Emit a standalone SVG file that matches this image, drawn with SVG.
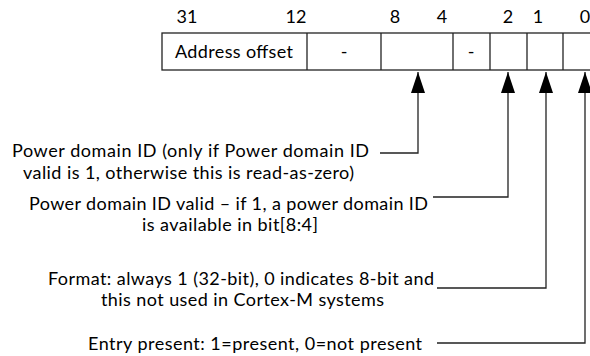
<svg xmlns="http://www.w3.org/2000/svg" width="590" height="356" viewBox="0 0 590 356">
<style>
text{font-family:Lato,"Liberation Sans",sans-serif;font-size:18px;fill:#000}
.c{text-anchor:middle}
.box{fill:#fff;stroke:#222;stroke-width:1.3}
.con{fill:none;stroke:#222;stroke-width:1.3}
</style>
<defs>
<marker id="ah" viewBox="0 0 21 14" refX="21" refY="7" markerWidth="21" markerHeight="14" markerUnits="userSpaceOnUse" orient="auto">
<path d="M0,0 L21,7 L0,14 z" fill="#000"/>
</marker>
</defs>
<g id="bits">
<text class="c" x="187" y="23">31</text>
<text class="c" x="296" y="23">12</text>
<text class="c" x="395" y="23">8</text>
<text class="c" x="442" y="23">4</text>
<text class="c" x="508" y="23">2</text>
<text class="c" x="538" y="23">1</text>
<text class="c" x="585" y="23">0</text>
</g>
<g id="register">
<rect class="box" x="162" y="33" width="440" height="37"/>
<line class="con" x1="307" y1="33" x2="307" y2="70"/>
<line class="con" x1="381" y1="33" x2="381" y2="70"/>
<line class="con" x1="453" y1="33" x2="453" y2="70"/>
<line class="con" x1="490" y1="33" x2="490" y2="70"/>
<line class="con" x1="527" y1="33" x2="527" y2="70"/>
<line class="con" x1="563" y1="33" x2="563" y2="70"/>
<text x="175" y="58" textLength="118" lengthAdjust="spacing">Address offset</text>
<text class="c" x="344" y="58">-</text>
<text class="c" x="471" y="58">-</text>
</g>
<g id="connectors">
<path class="con" d="M380,153 H418 V72" marker-end="url(#ah)"/>
<path class="con" d="M433,197 H508 V72" marker-end="url(#ah)"/>
<path class="con" d="M437,288 H546 V72" marker-end="url(#ah)"/>
<path class="con" d="M437,343 H585 V72" marker-end="url(#ah)"/>
</g>
<g id="label-pdid">
<text x="12" y="157" textLength="357" lengthAdjust="spacing">Power domain ID (only if Power domain ID</text>
<text x="23" y="179" textLength="331" lengthAdjust="spacing">valid is 1, otherwise this is read-as-zero)</text>
</g>
<g id="label-pdvalid">
<text x="29" y="210" textLength="399" lengthAdjust="spacing">Power domain ID valid – if 1, a power domain ID</text>
<text x="142" y="231" textLength="176" lengthAdjust="spacing">is available in bit[8:4]</text>
</g>
<g id="label-format">
<text x="48" y="285" textLength="386" lengthAdjust="spacing">Format: always 1 (32-bit), 0 indicates 8-bit and</text>
<text x="101" y="306" textLength="283" lengthAdjust="spacing">this not used in Cortex-M systems</text>
</g>
<g id="label-entry">
<text x="88" y="350" textLength="334" lengthAdjust="spacing">Entry present: 1=present, 0=not present</text>
</g>
</svg>
